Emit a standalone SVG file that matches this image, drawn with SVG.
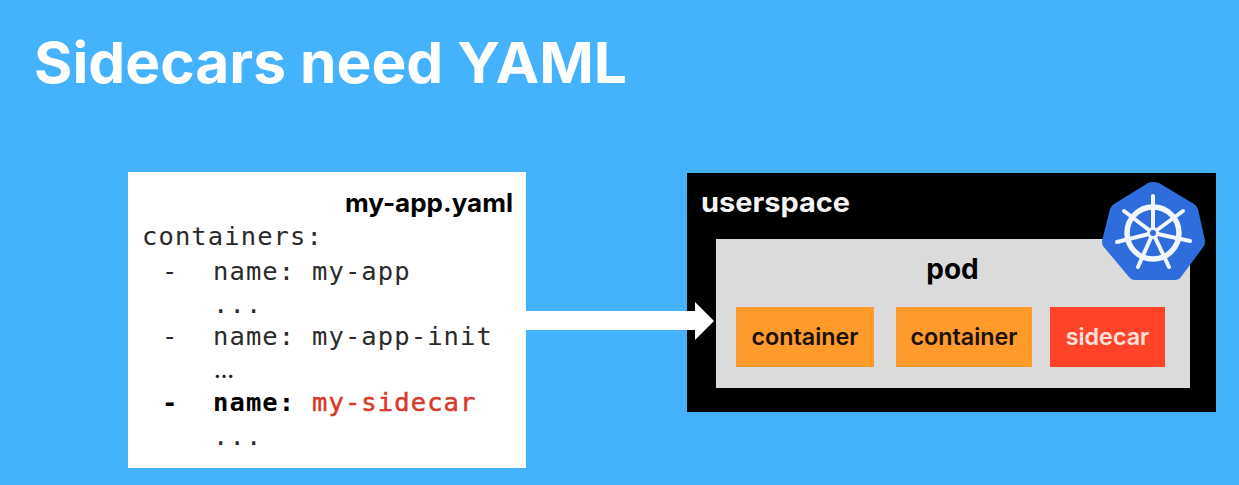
<svg xmlns="http://www.w3.org/2000/svg" width="1239" height="485" viewBox="0 0 1239 485">
<style>
text{font-family:"Inter","Liberation Sans",sans-serif}
.m{font-family:"DejaVu Sans Mono","Liberation Mono",monospace;font-size:25.5px;fill:#2a2a2a;letter-spacing:1.1px}
.b{font-weight:700;fill:#000}
.c{font-size:23.3px;font-weight:600;text-anchor:middle;fill:#1a1008}
</style>
<rect width="1239" height="485" fill="#45b2fd"/>
<text id="title" x="34" y="83" font-size="57" font-weight="700" fill="#fff" textLength="593" lengthAdjust="spacingAndGlyphs">Sidecars need YAML</text>
<g id="yaml-file">
<rect x="128" y="172" width="398" height="296" fill="#fff"/>
<text x="513" y="212" text-anchor="end" font-size="25.5" font-weight="700" fill="#000" textLength="168" lengthAdjust="spacingAndGlyphs">my-app.yaml</text>
<text class="m" x="142" y="245">containers:</text>
<text class="m" x="162" y="280">-</text><text class="m" x="213" y="280">name:</text><text class="m" x="312" y="280">my-app</text>
<text class="m" x="213" y="313">...</text>
<text class="m" x="162" y="345">-</text><text class="m" x="213" y="345">name:</text><text class="m" x="312" y="345">my-app-init</text>
<text x="214" y="378" font-size="20" font-weight="700" fill="#222">…</text>
<text class="m b" x="162" y="411">-</text><text class="m b" x="213" y="411">name:</text><text class="m" x="312" y="411" style="fill:#d9392a;stroke:#d9392a;stroke-width:.5">my-sidecar</text>
<text class="m" x="213" y="445">...</text>
</g>
<g id="userspace">
<rect x="687" y="173" width="529" height="239" fill="#000"/>
<text x="701" y="212" font-size="27" font-weight="700" fill="#f4f4f4" textLength="149" lengthAdjust="spacingAndGlyphs">userspace</text>
</g>
<g id="pod">
<rect x="716" y="239" width="474" height="149" fill="#dbdbdb"/>
<text x="952.500" y="279" text-anchor="middle" font-size="28" font-weight="700" fill="#000">pod</text>
</g>
<g id="container-1">
<rect x="736" y="307" width="138" height="60" fill="#ff9a2b"/>
<text class="c" x="805" y="345">container</text>
</g>
<g id="container-2">
<rect x="896" y="307" width="136" height="60" fill="#ff9a2b"/>
<text class="c" x="964" y="345">container</text>
</g>
<g id="sidecar">
<rect x="1050" y="307" width="115" height="60" fill="#ff4329"/>
<text class="c" x="1107.500" y="345" style="fill:#fbe3dc">sidecar</text>
</g>
<g id="kubernetes-logo">
<path d="M1153 182Q1156 182 1159 183L1194 204Q1197 206 1198 209L1205 241Q1205 244 1204 246L1181 277Q1179 280 1176 280H1134Q1131 280 1129 277L1103 246Q1102 244 1102 241L1110 209Q1111 206 1114 204L1148 183Q1150 182 1153 182Z" fill="#2f6cdc"/>
<g fill="none" stroke="#f2f6fd" stroke-linecap="round">
<circle cx="1153" cy="233" r="26" stroke-width="5.500"/>
<g stroke-width="4">
<path d="M1153 233V196"/>
<path d="M1153 233L1183 211"/>
<path d="M1153 233L1190 241"/>
<path d="M1153 233L1169 267"/>
<path d="M1153 233L1138 267"/>
<path d="M1153 233L1117 242"/>
<path d="M1153 233L1124 211"/>
</g>
</g>
<circle cx="1153" cy="233" r="4.500" fill="#2f6cdc" stroke="#f2f6fd" stroke-width="3"/>
</g>
<g id="connectors">
<path d="M526 311H695V302L714 321L695 340V330H526Z" fill="#fff"/>
</g>
</svg>
